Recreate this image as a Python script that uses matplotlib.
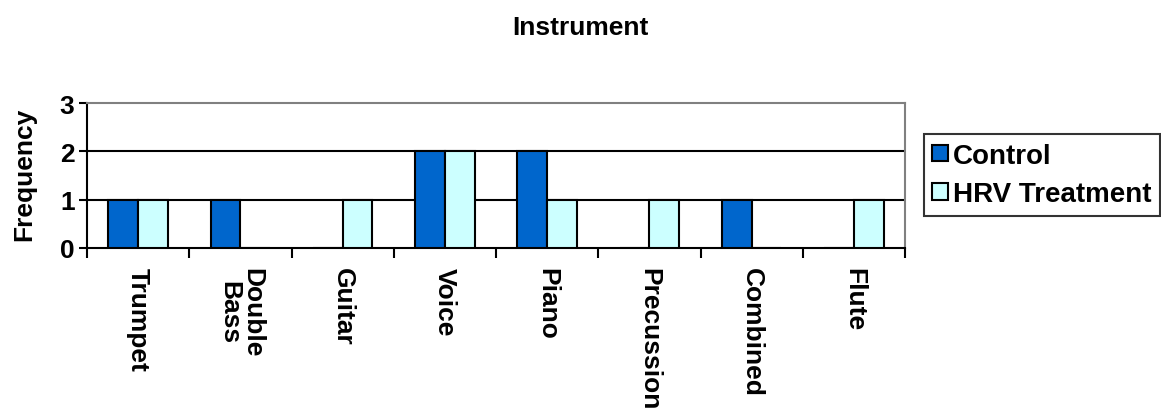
import numpy as np
import matplotlib.pyplot as plt
from matplotlib.patches import Patch

plt.rcParams["font.family"] = ["Liberation Sans", "DejaVu Sans"]
plt.rcParams["font.weight"] = "bold"

instruments = ["Trumpet", "Double\nBass", "Guitar", "Voice", "Piano",
               "Precussion", "Combined", "Flute"]
control = [1, 1, 0, 2, 2, 0, 1, 0]
hrv_treatment = [1, 0, 1, 2, 1, 1, 0, 1]

control_color = "#0066cc"
hrv_color = "#ccffff"
fs = 19

fig = plt.figure(figsize=(11.61, 4.14), dpi=100)
ax = fig.add_axes([87 / 1161, 1 - 249 / 414, 818 / 1161, 145 / 414])

x = np.arange(len(instruments))
w = 0.29
ax.bar(x - w / 2, control, w, color=control_color, edgecolor="black", linewidth=1.5, zorder=3)
ax.bar(x + w / 2, hrv_treatment, w, color=hrv_color, edgecolor="black", linewidth=1.5, zorder=3)

# Gridlines at integer levels
for level in [1, 2]:
    ax.axhline(level, color="black", linewidth=1.5, zorder=1)

ax.set_xlim(-0.5, len(instruments) - 0.5)
ax.set_ylim(0, 3)
ax.set_yticks([0, 1, 2, 3])
ax.set_yticklabels(["0", "1", "2", "3"], fontsize=fs, fontweight="bold")

# Ticks on category boundaries, labels under category centres
ax.set_xticks(np.arange(len(instruments) + 1) - 0.5)
ax.set_xticklabels([])
ax.tick_params(axis="x", direction="out", length=7, width=1.5, color="black")
ax.tick_params(axis="y", direction="out", length=6, width=1.5, color="black", pad=3)
for xi, name in zip(x, instruments):
    ax.text(xi, -0.4, name, rotation=270, ha="center", va="top",
            multialignment="center", fontsize=fs, fontweight="bold",
            linespacing=0.95)

ax.spines["left"].set_color("black")
ax.spines["bottom"].set_color("black")
ax.spines["left"].set_linewidth(1.5)
ax.spines["bottom"].set_linewidth(1.5)
ax.spines["top"].set_color("#808080")
ax.spines["right"].set_color("#808080")
ax.spines["top"].set_linewidth(1.5)
ax.spines["right"].set_linewidth(1.5)

ax.set_ylabel("Frequency", fontsize=fs, fontweight="bold")
ax.yaxis.set_label_coords(-51 / 818, 0.515)
fig.text(0.5, 1 - 28 / 414, "Instrument", ha="center", va="center",
         fontsize=fs, fontweight="bold")

handles = [Patch(facecolor=control_color, edgecolor="black", linewidth=1.5, label="Control"),
           Patch(facecolor=hrv_color, edgecolor="black", linewidth=1.5, label="HRV Treatment")]
leg = fig.legend(handles=handles, loc="center left",
                 bbox_to_anchor=(924 / 1161, 1 - 176 / 414),
                 prop={"size": 20, "weight": "bold"}, frameon=True, fancybox=False,
                 handlelength=0.55, handleheight=0.55, handletextpad=0.2,
                 borderpad=0.3, labelspacing=0.45, borderaxespad=0)
leg.get_frame().set_edgecolor("black")
leg.get_frame().set_linewidth(1.5)

plt.savefig("out.png", dpi=100, facecolor="white")
plt.close(fig)
